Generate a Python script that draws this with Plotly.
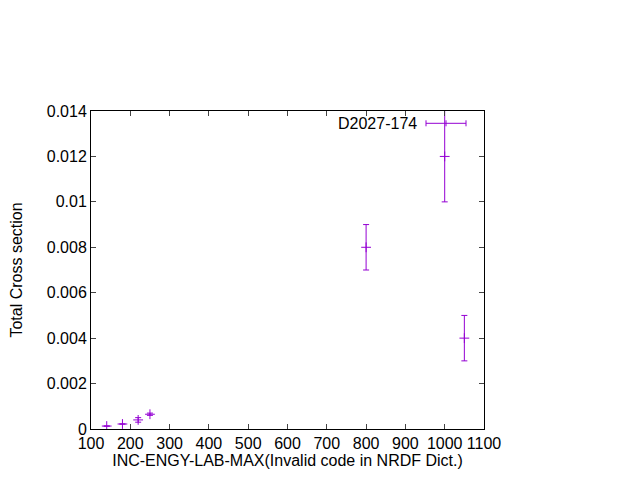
import plotly.graph_objects as go

energy = [140, 180, 220, 250, 800, 1000, 1050]
xs = [0.00013, 0.00022, 0.0004, 0.00065, 0.008, 0.012, 0.004]
xs_err = [0.0, 0.0, 0.0001, 0.00005, 0.001, 0.002, 0.001]
xs_err_plus = [0.0, 0.0, 0.0001, 0.00005, 0.001, 0.003, 0.001]

x_ticks = [100, 200, 300, 400, 500, 600, 700, 800, 900, 1000, 1100]
y_ticks = [0, 0.002, 0.004, 0.006, 0.008, 0.01, 0.012, 0.014]
y_tick_text = ["0", "0.002", "0.004", "0.006", "0.008", "0.01", "0.012", "0.014"]
legend_label = "D2027-174"

color = "#9400D3"
font = dict(family="Liberation Sans, Arial, sans-serif", size=16, color="black")

fig = go.Figure()
fig.add_trace(go.Scatter(
    x=energy, y=xs, mode="markers",
    marker=dict(symbol="cross-thin", size=7, line=dict(color=color, width=1), color=color),
    error_y=dict(type="data", array=xs_err_plus, arrayminus=xs_err, symmetric=False,
                 color=color, thickness=1, width=3),
    showlegend=False,
))

# page body has an 8px margin, so the figure is sized/offset to compensate
fig.update_layout(
    width=632, height=472,
    margin=dict(l=83, r=156, t=103, b=51, autoexpand=False),
    paper_bgcolor="white", plot_bgcolor="white",
    font=font, showlegend=False,
    xaxis=dict(range=[100, 1100], tickvals=x_ticks, ticks="inside", ticklen=5,
               showline=True, linecolor="black", linewidth=1, mirror="allticks",
               showgrid=False, zeroline=False, tickfont=font, automargin=False,
               title=dict(text="INC-ENGY-LAB-MAX(Invalid code in NRDF Dict.)", font=font, standoff=2)),
    yaxis=dict(range=[0, 0.014], tickvals=y_ticks, ticktext=y_tick_text, ticks="inside", ticklen=5,
               showline=True, linecolor="black", linewidth=1, mirror="allticks",
               showgrid=False, zeroline=False, tickfont=font, automargin=False,
               title=dict(text="Total Cross section", font=font, standoff=29)),
)

# legend entry (gnuplot style key, top right)
fig.add_annotation(xref="paper", yref="paper", x=(419 - 91) / 393, y=(429 - 123) / 318,
                   text=legend_label, showarrow=False, xanchor="right", yanchor="middle", font=font)
ly = (429 - 123.3) / 318
x0, x1, xc = (426 - 91) / 393, (466 - 91) / 393, (446 - 91) / 393
cap = 3 / 318
line = dict(color=color, width=1)
fig.add_shape(type="line", xref="paper", yref="paper", x0=x0, x1=x1, y0=ly, y1=ly, line=line)
fig.add_shape(type="line", xref="paper", yref="paper", x0=x0, x1=x0, y0=ly - cap, y1=ly + cap, line=line)
fig.add_shape(type="line", xref="paper", yref="paper", x0=x1, x1=x1, y0=ly - cap, y1=ly + cap, line=line)
fig.add_shape(type="line", xref="paper", yref="paper", x0=xc, x1=xc, y0=ly - cap, y1=ly + cap, line=line)

fig.write_html("out.html")
